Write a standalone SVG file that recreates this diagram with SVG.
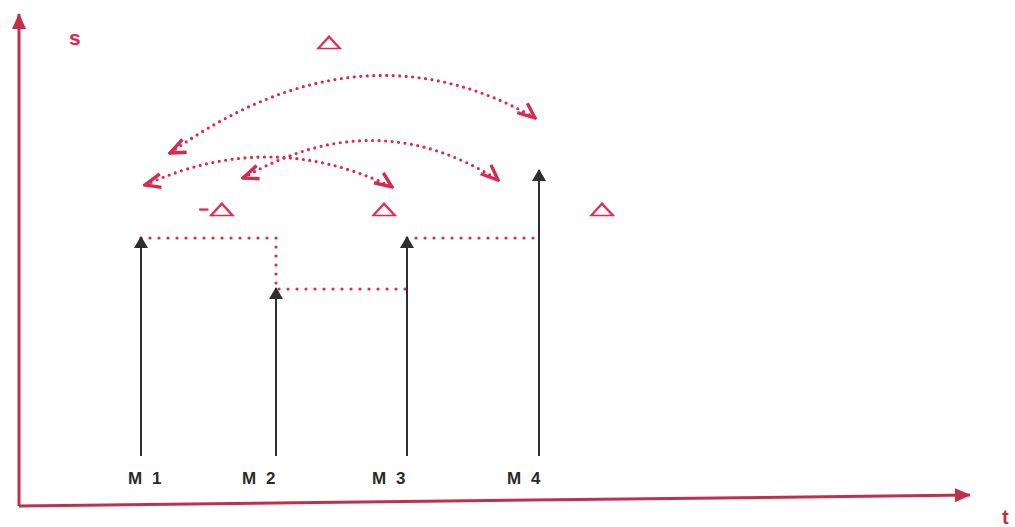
<svg xmlns="http://www.w3.org/2000/svg" width="1015" height="527" viewBox="0 0 1015 527">
<style>
.axis{stroke:#c0304c;stroke-width:3;fill:none}
.bar{stroke:#2e2e2e;stroke-width:2;fill:none}
.dot{stroke:#e0284e;stroke-width:3.2;stroke-linecap:round;fill:none;stroke-dasharray:0 9}
.arc{stroke:#d82a4e;stroke-width:3.2;stroke-linecap:round;fill:none;stroke-dasharray:0 6.5}
.lbl{font-family:"Liberation Sans",Arial,sans-serif;font-weight:bold;font-size:17px;fill:#2a2a2a;letter-spacing:2px;word-spacing:1px}
.red{font-family:"DejaVu Sans",sans-serif;fill:#e0284e;stroke:#e0284e;stroke-width:1;font-size:32px}
</style>
<defs>
<marker id="blk" viewBox="0 0 12 14" refX="11" refY="7" markerWidth="12" markerHeight="14" markerUnits="userSpaceOnUse" orient="auto">
<path d="M0,0 L12,7 L0,14 Z" fill="#2e2e2e"/>
</marker>
<marker id="ax" viewBox="0 0 16 14" refX="15" refY="7" markerWidth="16" markerHeight="14" markerUnits="userSpaceOnUse" orient="auto">
<path d="M0,0 L16,7 L0,14 Z" fill="#c0304c"/>
</marker>
<marker id="chev" viewBox="0 0 24 24" refX="22" refY="12" markerWidth="24" markerHeight="24" markerUnits="userSpaceOnUse" orient="auto-start-reverse">
<path d="M8,3 L22,12 L4,16" fill="none" stroke="#d82a4e" stroke-width="3.4" stroke-linejoin="miter"/>
</marker>
</defs>
<g id="axes">
<line class="axis" x1="19" y1="506" x2="19" y2="14" marker-end="url(#ax)"/>
<line class="axis" x1="19" y1="506" x2="970" y2="495" marker-end="url(#ax)"/>
<text x="69" y="45" font-family="Liberation Sans,Arial,sans-serif" font-weight="bold" font-size="21" fill="#e0284e">s</text>
<text x="1002" y="524" font-family="Liberation Sans,Arial,sans-serif" font-weight="bold" font-size="20" fill="#c0304c">t</text>
</g>
<g id="connectors">
<polyline class="dot" points="141,238 276,238 276,289 407,289"/>
<line class="dot" x1="407" y1="238" x2="539" y2="238"/>
<path class="arc" d="M170,153 Q360,18 535,118" marker-start="url(#chev)" marker-end="url(#chev)"/>
<path class="arc" d="M145,185 Q270,128 392,187" marker-start="url(#chev)" marker-end="url(#chev)"/>
<path class="arc" d="M243,178 Q375,102 498,180" marker-start="url(#chev)" marker-end="url(#chev)"/>
</g>
<g id="M1">
<line class="bar" x1="141" y1="456" x2="141" y2="237" marker-end="url(#blk)"/>
<text class="lbl" x="128" y="484">M 1</text>
</g>
<g id="M2">
<line class="bar" x1="276" y1="456" x2="276" y2="288" marker-end="url(#blk)"/>
<text class="lbl" x="242" y="484">M 2</text>
</g>
<g id="M3">
<line class="bar" x1="407" y1="456" x2="407" y2="237" marker-end="url(#blk)"/>
<text class="lbl" x="372" y="484">M 3</text>
</g>
<g id="M4">
<line class="bar" x1="539" y1="456" x2="539" y2="170" marker-end="url(#blk)"/>
<text class="lbl" x="507" y="484">M 4</text>
</g>
<g id="deltas">
<text class="red" transform="translate(329,47) scale(1,0.55)" text-anchor="middle">△</text>
<text class="red" transform="translate(216,214) scale(1,0.55)" text-anchor="middle">-△</text>
<text class="red" transform="translate(384,214) scale(1,0.55)" text-anchor="middle">△</text>
<text class="red" transform="translate(602,214) scale(1,0.55)" text-anchor="middle">△</text>
</g>
</svg>
